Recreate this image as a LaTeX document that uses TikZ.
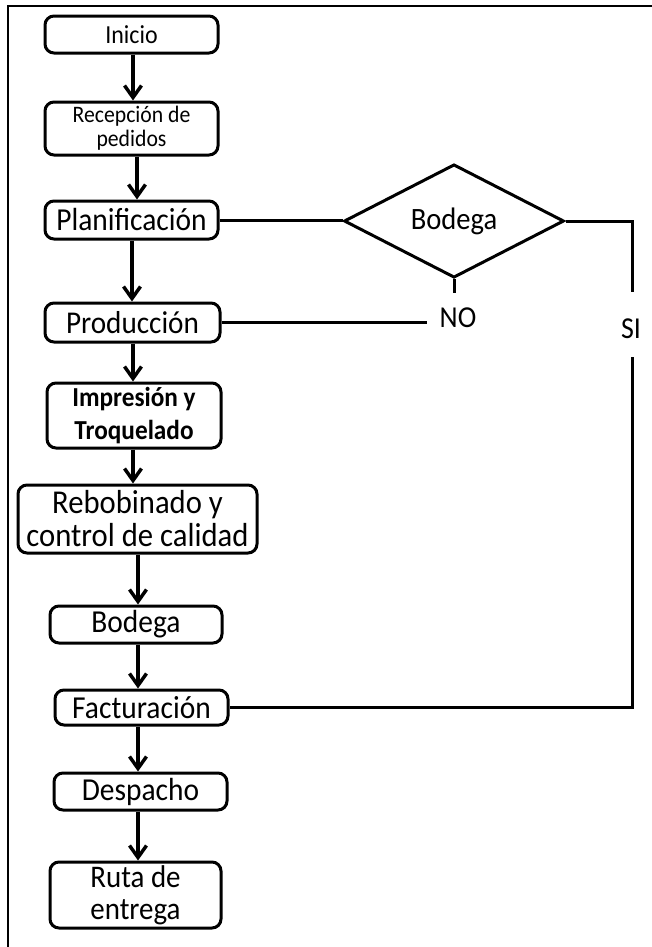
\documentclass[tikz,border=0pt]{standalone}
\usepackage{fontspec}
\setmainfont{Carlito}[FakeStretch=0.92]
\usetikzlibrary{shapes.geometric,arrows.meta}
\tikzset{
  boxsize/.style 2 args={minimum width=0.75*#1pt, minimum height=0.75*#2pt},
  stepbox/.style={draw, line width=2.25pt, rounded corners=6.75pt, inner sep=0pt,
    align=center, fill=white},
  arr/.style={line width=2.6pt, -{Straight Barb[length=9pt,width=12.75pt]}},
  link/.style={line width=2.25pt, line cap=butt},
  lbl/.style={inner sep=0pt, font=\fontsize{22.8pt}{26pt}\selectfont},
}
\begin{document}
\begin{tikzpicture}[x=0.75pt, y=-0.75pt]
\useasboundingbox (0,0) rectangle (652,947);
\fill[white] (0,0) rectangle (652,947);
% outer frame (top and left edges)
\draw[line width=1.5pt, line join=miter] (8,960) -- (8,6) -- (665,6);

% process steps
\node[stepbox, boxsize={173}{37}, font=\fontsize{19.5pt}{23pt}\selectfont]
  (inicio) at (131.5,34.5) {Inicio};
\node[stepbox, boxsize={173}{53}, font=\fontsize{17.7pt}{18pt}\selectfont]
  (recep) at (131.5,128.5) {Recepción de\\pedidos};
\node[stepbox, boxsize={173}{38}, font=\fontsize{24pt}{28pt}\selectfont]
  (planif) at (131.5,220) {Planificación};
\node[stepbox, boxsize={175}{39}, font=\fontsize{23.8pt}{28pt}\selectfont]
  (prod) at (132.5,322.5) {Producción};
\node[stepbox, boxsize={174}{65}, font=\fontsize{20.6pt}{24.75pt}\selectfont\bfseries]
  (impr) at (134,415.5) {Impresión y\\Troquelado};
\node[stepbox, boxsize={239}{68}, font=\fontsize{25pt}{24.75pt}\selectfont]
  (rebob) at (137.5,519) {Rebobinado y\\control de calidad};
\node[stepbox, boxsize={172}{37}, font=\fontsize{24pt}{28pt}\selectfont]
  (bodega) at (136,624.5) {Bodega};
\node[stepbox, boxsize={173}{35}, font=\fontsize{24pt}{28pt}\selectfont]
  (factur) at (141.5,707.5) {Facturación};
\node[stepbox, boxsize={173}{37}, font=\fontsize{24pt}{28pt}\selectfont]
  (desp) at (140.5,791.5) {Despacho};
\node[stepbox, boxsize={171}{66}, font=\fontsize{23.6pt}{24pt}\selectfont]
  (ruta) at (135.5,895) {Ruta de\\entrega};

% decision
\node[draw, diamond, line width=2.25pt, inner sep=0pt, boxsize={220}{78},
  font=\fontsize{23.3pt}{26pt}\selectfont] (dia) at (454,221) {\raisebox{2.5pt}{Bodega}};

% main flow
\draw[arr] (inicio.south -| 133,0) -- (recep.north -| 133,0);
\draw[arr] (recep.south -| 137,0) -- (planif.north -| 137,0);
\draw[arr] (planif.south -| 132,0) -- (prod.north -| 132,0);
\draw[arr] (prod.south -| 133,0) -- (impr.north -| 133,0);
\draw[arr] (impr.south -| 133,0) -- (rebob.north -| 133,0);
\draw[arr] (rebob.south -| 138,0) -- (bodega.north -| 138,0);
\draw[arr] (bodega.south -| 138,0) -- (factur.north -| 138,0);
\draw[arr] (factur.south -| 138,0) -- (desp.north -| 138,0);
\draw[arr] (desp.south -| 138,0) -- (ruta.north -| 138,0);

% decision branches
\draw[link] (planif.east) -- (planif.east -| dia.west);

\coordinate (noend) at (454,293);
\draw[link] (dia.south) -- (noend);
\node[lbl] (no) at (458,318) {NO};
\coordinate (noleft) at (427,323);
\draw[link] (prod.east) -- (prod.east -| noleft);

\coordinate (sitop) at (632,292);
\draw[link, line join=miter] (dia.east) -| (sitop);
\node[lbl] (si) at (631,329) {SI};
\coordinate (sibot) at (632,357);
\draw[link, line join=miter] (sibot) |- (factur.east);
\end{tikzpicture}
\end{document}
